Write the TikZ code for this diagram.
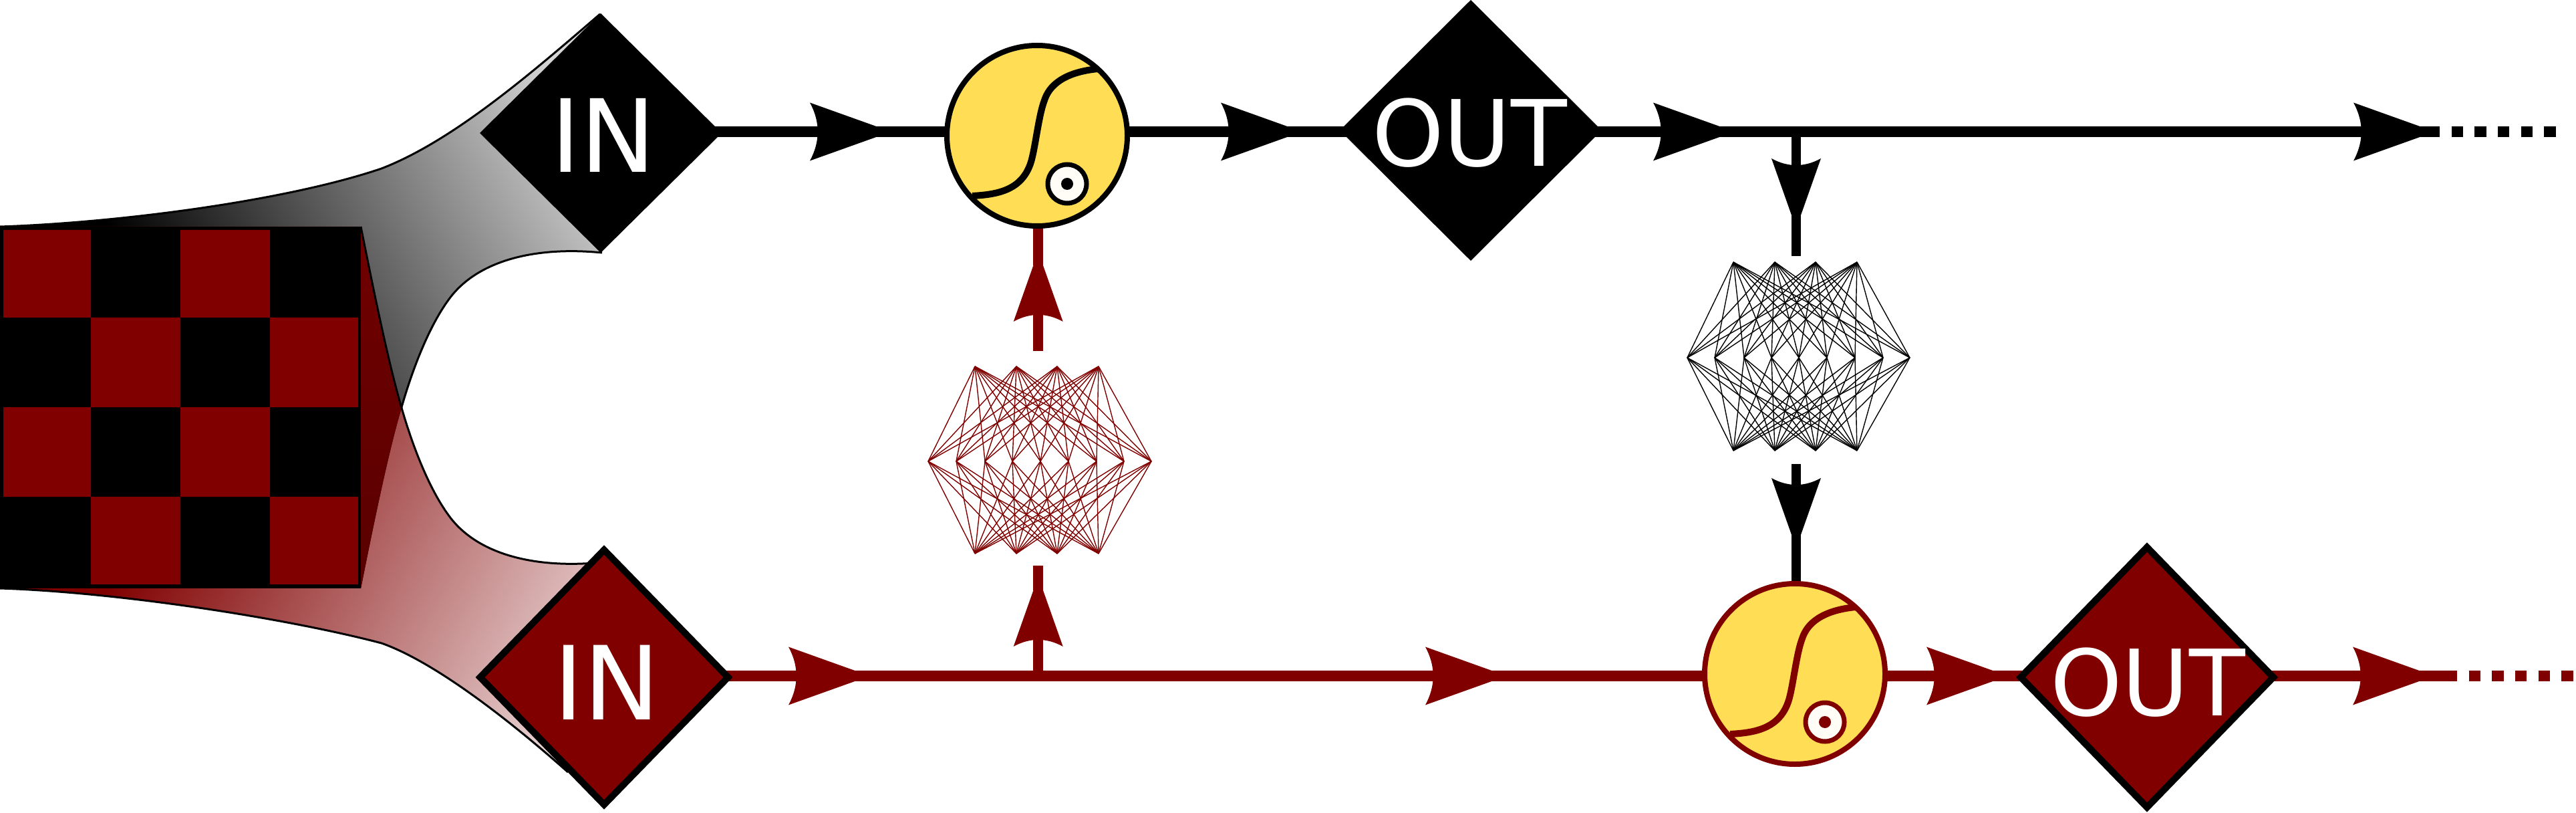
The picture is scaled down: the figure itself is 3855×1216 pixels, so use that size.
\documentclass[tikz,border=0pt]{standalone}
\usepackage{fontspec}
\setmainfont{DejaVu Sans}
\usetikzlibrary{shapes.geometric,arrows.meta,calc}
\definecolor{dred}{HTML}{800000}
\definecolor{sun}{HTML}{FFDD55}
\definecolor{cream}{HTML}{FFFDF5}
\def\pxu{0.02cm}
\pgfdeclarelayer{wires}
\pgfsetlayers{wires,main}
\pgfdeclarearrow{
  name=Fish,
  parameters={\the\pgfarrowlength,\the\pgfarrowwidth},
  setup code={
    \pgfarrowssettipend{0pt}
    \pgfarrowssetbackend{-\pgfarrowlength}
    \pgfarrowssetlineend{-0.8\pgfarrowlength}
    \pgfarrowssavethe\pgfarrowlength
    \pgfarrowssavethe\pgfarrowwidth
  },
  drawing code={
    \pgfsetdash{}{0pt}
    \pgfpathmoveto{\pgfqpoint{1pt}{0.09\pgfarrowwidth}}
    \pgfpathlineto{\pgfqpoint{-\pgfarrowlength}{0.5\pgfarrowwidth}}
    \pgfpathcurveto{\pgfqpoint{-0.84\pgfarrowlength}{0.17\pgfarrowwidth}}
                   {\pgfqpoint{-0.84\pgfarrowlength}{-0.17\pgfarrowwidth}}
                   {\pgfqpoint{-\pgfarrowlength}{-0.5\pgfarrowwidth}}
    \pgfpathlineto{\pgfqpoint{1pt}{-0.09\pgfarrowwidth}}
    \pgfpathclose
    \pgfusepathqfill
  },
  defaults={length=55.8pt,width=49.5pt}
}
\pgfdeclareverticalshading{fungray}{100bp}{color(0bp)=(black);color(35.5bp)=(black);color(62.5bp)=(black!16);color(100bp)=(black!16)}
\pgfdeclareverticalshading{funred}{100bp}{color(0bp)=(dred);color(35.5bp)=(dred);color(62.5bp)=(dred!16);color(100bp)=(dred!16)}
\tikzset{
  wire/.style={line width=16*\pxu},
  vwire/.style={line width=14.5*\pxu},
  hhead/.style={-{Fish[length=55.8pt,width=49.5pt]}},
  vhead/.style={-{Fish[length=47.8pt,width=42.1pt]}},
  dots/.style={wire,dash pattern=on 9.87pt off 9.87pt},
  gate/.style={diamond,aspect=1,inner sep=0,outer sep=0},
  gatelabel/.style={text=white,inner sep=0,outer sep=0},
  neuron/.style={circle,fill=sun,inner sep=0,outer sep=0,minimum size=270*\pxu,line width=8*\pxu},
  funedge/.style={line width=3*\pxu,black},
  edge/.style={line width=1.4*\pxu},
}
\newcommand{\sigmark}[2]{% centre name, colour
  \draw[#2,line width=10*\pxu] ($(#1)+(-97,90)$)
     .. controls ($(#1)+(-60,88)$) and ($(#1)+(-24,82)$) .. ($(#1)+(-10,42)$)
     .. controls ($(#1)+(-3,22)$) and ($(#1)+(2,-30)$) .. ($(#1)+(11,-53)$)
     .. controls ($(#1)+(18,-75)$) and ($(#1)+(40,-95)$) .. ($(#1)+(91,-100)$);
  \node[circle,draw=#2,fill=cream,line width=7*\pxu,inner sep=0,outer sep=0,minimum size=58*\pxu] (#1t) at ($(#1)+(45,72)$) {};
  \node[circle,fill=#2,inner sep=0,outer sep=0,minimum size=18*\pxu] (#1d) at (#1t) {};
}
\begin{document}
\begin{tikzpicture}[x=0.02cm,y=-0.02cm]
\useasboundingbox (0,0) rectangle (3855,1216);

% ---- funnels
\begin{scope}
  \clip (0,339) .. controls (180,333) and (430,300) .. (571,252)
        .. controls (680,210) and (800,105) .. (898,21)
        -- (897,200) -- (901,378)
        .. controls (800,368) and (715,390) .. (673,446)
        .. controls (640,490) and (615,560) .. (601,609)
        .. controls (580,680) and (556,800) .. (540,880) -- (0,880) -- cycle;
  \path[shading=fungray,shading angle=-60.6] (-27,-256) rectangle (1273,1044);
\end{scope}
\draw[funedge] (0,339) .. controls (180,333) and (430,300) .. (571,252)
        .. controls (680,210) and (800,105) .. (898,21);
\draw[funedge] (901,378)
        .. controls (800,368) and (715,390) .. (673,446)
        .. controls (640,490) and (615,560) .. (601,609)
        .. controls (580,680) and (556,800) .. (540,880);
\begin{scope}
  \clip (0,880) .. controls (180,886) and (430,925) .. (571,962)
        .. controls (650,990) and (760,1075) .. (850,1155)
        -- (904,1013) -- (901,841)
        .. controls (800,851) and (715,829) .. (673,773)
        .. controls (640,729) and (615,659) .. (601,610)
        .. controls (580,539) and (556,419) .. (540,339) -- (0,339) -- cycle;
  \path[shading=funred,shading angle=-119.4] (-27,175) rectangle (1273,1475);
\end{scope}
\fill[top color=black!12!dred,bottom color=black!30!dred]
   (540,339) .. controls (556,419) and (580,539) .. (601,610)
   .. controls (580,680) and (556,800) .. (540,880) -- cycle;
\draw[funedge] (0,880) .. controls (180,886) and (430,925) .. (571,962)
        .. controls (650,990) and (760,1075) .. (850,1155);
\draw[funedge] (901,841)
        .. controls (800,851) and (715,829) .. (673,773)
        .. controls (640,729) and (615,659) .. (601,610)
        .. controls (580,539) and (556,419) .. (540,339);

% ---- checker board
\fill[black] (0,339) rectangle (540,880);
\fill[dred] (5,344) rectangle (136,475) (270,344) rectangle (404,475)
            (136,475) rectangle (270,609) (404,475) rectangle (536,609)
            (5,609) rectangle (136,743) (270,609) rectangle (404,743)
            (136,743) rectangle (270,874) (404,743) rectangle (536,874);

% ---- gates
\node[gate,fill=black,minimum width=362*\pxu,minimum height=358*\pxu] (inB) at (899,199) {};
\node[gatelabel,font=\fontsize{86}{86}\selectfont] (inBt) at (903,202) {IN};
\node[gate,fill=black,minimum width=392*\pxu,minimum height=390*\pxu] (outB) at (2201,195) {};
\node[gatelabel,font=\fontsize{78}{78}\selectfont] (outBt) at (2199,199) {OUT};
\node[gate,fill=dred,draw=black,line width=10*\pxu,minimum width=371*\pxu,minimum height=381*\pxu] (inR) at (904,1013) {};
\node[gatelabel,font=\fontsize{87}{87}\selectfont] (inRt) at (908,1021) {IN};
\node[gate,fill=dred,draw=black,line width=10*\pxu,minimum width=378*\pxu,minimum height=389*\pxu] (outR) at (3213,1013) {};
\node[gatelabel,font=\fontsize{78}{78}\selectfont] (outRt) at (3214,1021) {OUT};

% ---- neurons
\node[neuron,draw=black] (cA) at (1552,203) {};
\node[neuron,draw=dred] (cB) at (2686,1008) {};
\sigmark{cA}{black}
\sigmark{cB}{dred}

% ---- way points
\coordinate (h1) at (1310,197);
\coordinate (h2) at (1925,197);
\coordinate (h3) at (2572,197);
\coordinate (h4) at (3620,197);
\coordinate (hd) at (3634,197);
\coordinate (hend) at (3825,197);
\coordinate (r1) at (1278,1011);
\coordinate (r2) at (2231,1011);
\coordinate (r3) at (2981,1011);
\coordinate (r4) at (3619,1011);
\coordinate (rd) at (3660,1011);
\coordinate (rend) at (3851,1011);

\begin{pgfonlayer}{wires}
% ---- top wires
\draw[wire,hhead] (inB.center |- h1) -- (h1);
\draw[wire] (h1) -- (cA.center |- h1);
\draw[wire,hhead] (cA.center |- h1) -- (h2);
\draw[wire] (h2) -- (outB.center |- h1);
\draw[wire,hhead] (outB.center |- h1) -- (h3);
\draw[wire,hhead] (h3) -- (h4);
\draw[wire] (h4) -- (hd);
\draw[dots] (hd) -- (hend);

% ---- bottom wires
\draw[dred,wire,hhead] (inR.center |- r1) -- (r1);
\draw[dred,wire,hhead] (r1) -- (r2);
\draw[dred,wire] (r2) -- (cB.center |- r1);
\draw[dred,wire,hhead] (cB.center |- r1) -- (r3);
\draw[dred,wire] (r3) -- (outR.center |- r1);
\draw[dred,wire,hhead] (outR.center |- r1) -- (r4);
\draw[dred,wire] (r4) -- (rd);
\draw[dred,dots] (rd) -- (rend);

% ---- vertical wires
\coordinate (u0) at (1553.7,1011);
\coordinate (u1) at (1553.7,883);
\coordinate (u2) at (1553.7,846);
\coordinate (u3) at (1553.7,525);
\coordinate (u4) at (1553.7,397);
\draw[dred,vwire,vhead] (u0) -- (u1);
\draw[dred,vwire] (u1) -- (u2);
\draw[dred,vwire,vhead] (u3) -- (u4);
\draw[dred,vwire] (u4) -- (cA.center -| u4);
\coordinate (v0) at (2688,197);
\coordinate (v1) at (2688,321);
\coordinate (v2) at (2688,383.5);
\coordinate (v3) at (2688,694);
\coordinate (v4) at (2688,799);
\draw[vwire,vhead] (v0) -- (v1);
\draw[vwire] (v1) -- (v2);
\draw[vwire,vhead] (v3) -- (v4);
\draw[vwire] (v4) -- (cB.center -| v4);
\end{pgfonlayer}

% ---- networks
\foreach \i/\x in {1/1459,2/1521,3/1582,4/1644}{
  \coordinate (at\i) at (\x,548);
  \coordinate (ab\i) at (\x,828);
}
\foreach \j/\x in {1/1389,2/1431,3/1474,4/1515,5/1557,6/1599,7/1641,8/1682,9/1723}{
  \coordinate (am\j) at (\x,690);
}
\foreach \i in {1,2,3,4}{\foreach \j in {1,...,9}{
  \draw[dred,edge] (at\i) -- (am\j);
  \draw[dred,edge] (am\j) -- (ab\i);
}}
\foreach \i/\x in {1/2594,2/2656,3/2717,4/2779}{
  \coordinate (bt\i) at (\x,392);
  \coordinate (bb\i) at (\x,674);
}
\foreach \j/\x in {1/2525,2/2566,3/2610,4/2651,5/2692,6/2734,7/2776,8/2818,9/2858}{
  \coordinate (bm\j) at (\x,535);
}
\foreach \i in {1,2,3,4}{\foreach \j in {1,...,9}{
  \draw[black,edge] (bt\i) -- (bm\j);
  \draw[black,edge] (bm\j) -- (bb\i);
}}
\end{tikzpicture}
\end{document}
